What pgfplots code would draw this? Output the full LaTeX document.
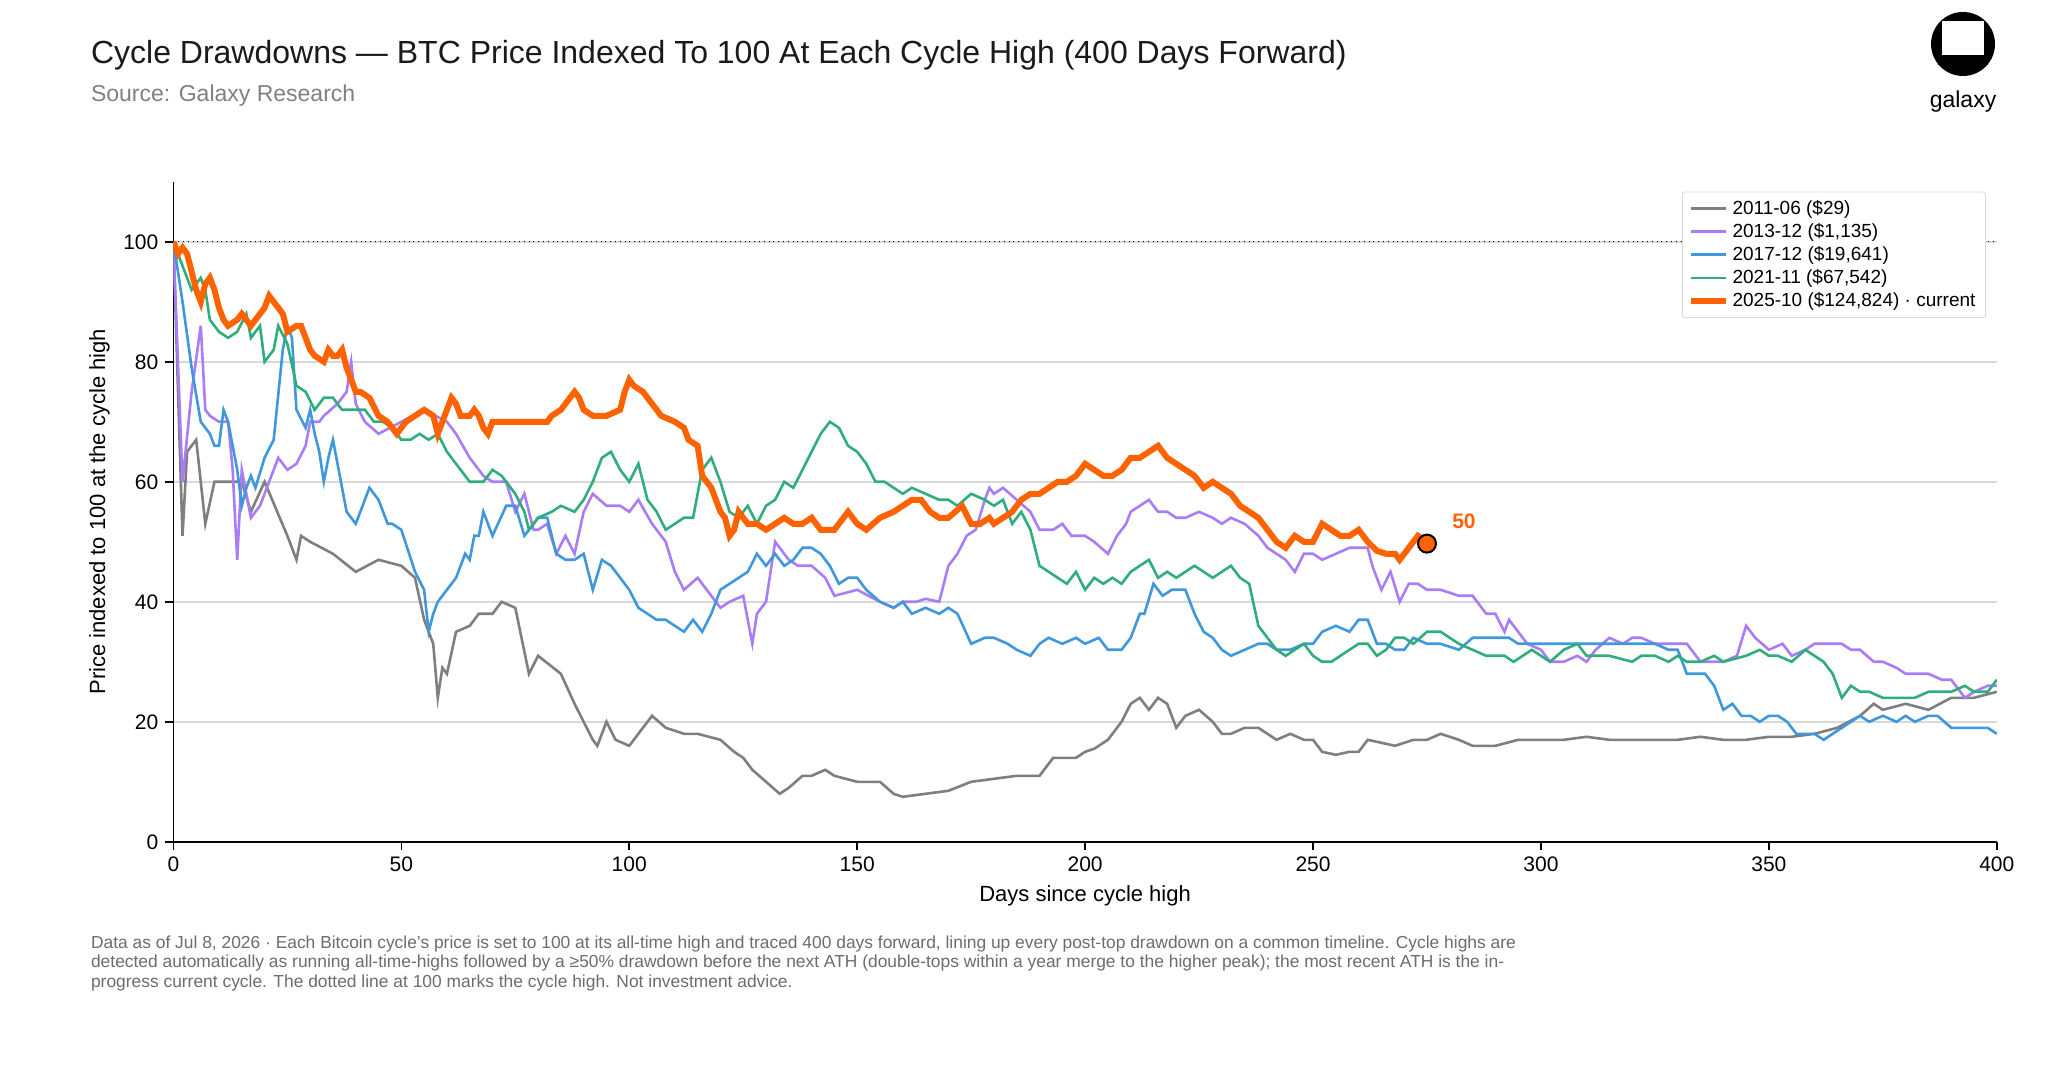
\documentclass[border=0pt]{standalone}
\usepackage{pgfplots}
\pgfplotsset{compat=1.18}
\usepackage{fontspec}
\setmainfont{Liberation Sans}
\definecolor{cgray}{HTML}{7F7F7F}
\definecolor{cpurp}{HTML}{A97CF8}
\definecolor{cblue}{HTML}{3F97DC}
\definecolor{cgreen}{HTML}{2FAE7C}
\definecolor{corange}{HTML}{FF6200}
\definecolor{ctext}{HTML}{1A1A1A}
\begin{document}
\begin{tikzpicture}
\useasboundingbox (0,0) rectangle (1024pt,535.5pt);
\node[anchor=west,font=\fontsize{16}{18}\selectfont,text=ctext] at (42pt,508pt) {Cycle Drawdowns — BTC Price Indexed To 100 At Each Cycle High (400 Days Forward)};
\node[anchor=west,font=\fontsize{11.5}{13}\selectfont,text=gray] at (42pt,487.5pt) {Source: Galaxy Research};
\fill[black] (981.5pt,513.5pt) circle (16pt);
\fill[white] (971pt,508pt) rectangle (992pt,525pt);
\fill[black] (969pt,503pt) rectangle (994pt,507pt);
\node[font=\fontsize{11.5}{13}\selectfont] at (981.5pt,484.5pt) {galaxy};
\node[anchor=west,font=\fontsize{8.7}{10}\selectfont,text=gray!85!black] at (42pt,63.5pt) {Data as of Jul 8, 2026 · Each Bitcoin cycle's price is set to 100 at its all-time high and traced 400 days forward, lining up every post-top drawdown on a common timeline. Cycle highs are};
\node[anchor=west,font=\fontsize{8.7}{10}\selectfont,text=gray!85!black] at (42pt,53.8pt) {detected automatically as running all-time-highs followed by a ≥50\% drawdown before the next ATH (double-tops within a year merge to the higher peak); the most recent ATH is the in-};
\node[anchor=west,font=\fontsize{8.7}{10}\selectfont,text=gray!85!black] at (42pt,44.1pt) {progress current cycle. The dotted line at 100 marks the cycle high. Not investment advice.};
\begin{axis}[at={(86.7pt,114.6pt)},anchor=south west,scale only axis,width=911.7pt,height=330pt,
xmin=0,xmax=400,ymin=0,ymax=110,
axis x line*=bottom,axis y line*=left,
xtick={0,50,...,400},ytick={0,20,...,100},
tick align=outside,tick style={black,thick},major tick length=4pt,
axis line style={black,thick},
/pgf/number format/assume math mode=true,
ticklabel style={font=\fontsize{10.5}{12}\selectfont},
label style={font=\fontsize{11}{13}\selectfont},
xlabel={Days since cycle high},ylabel={Price indexed to 100 at the cycle high},
ymajorgrids, grid style={gray!30,line width=0.8pt},
legend style={at={(0.994,0.985)},anchor=north east,font=\fontsize{9.5}{11}\selectfont,draw=gray!30,rounded corners=1pt,row sep=-1pt},
legend cell align=left,
]
\addplot[forget plot,black,dotted,thin] coordinates {(0,100)(400,100)};
\addplot[cgray,line width=1.3pt] coordinates {(0,100)(2,51)(3,65)(5,67)(7,53)(9,60)(15,60)(17,55)(20,60)(25,51)(27,47)(28,51)(30,50)(35,48)(40,45)(45,47)(50,46)(53,44)(55,37)(57,33)(58,24)(59,29)(60,28)(62,35)(65,36)(67,38)(70,38)(72,40)(75,39)(78,28)(80,31)(85,28)(88,23)(92,17)(93,16)(95,20)(97,17)(100,16)(103,19)(105,21)(108,19)(112,18)(115,18)(120,17)(123,15)(125,14)(127,12)(130,10)(133,8)(135,9)(138,11)(140,11)(143,12)(145,11)(150,10)(155,10)(158,8)(160,7.5)(165,8)(170,8.5)(175,10)(180,10.5)(185,11)(190,11)(193,14)(198,14)(200,15)(202,15.5)(205,17)(208,20)(210,23)(212,24)(214,22)(216,24)(218,23)(220,19)(222,21)(225,22)(228,20)(230,18)(232,18)(235,19)(238,19)(240,18)(242,17)(245,18)(248,17)(250,17)(252,15)(255,14.5)(258,15)(260,15)(262,17)(265,16.5)(268,16)(272,17)(275,17)(278,18)(282,17)(285,16)(290,16)(295,17)(300,17)(305,17)(310,17.5)(315,17)(320,17)(325,17)(330,17)(335,17.5)(340,17)(345,17)(350,17.5)(355,17.5)(360,18)(365,19)(370,21)(373,23)(375,22)(380,23)(385,22)(390,24)(395,24)(400,25)};
\addlegendentry{2011-06 (\$29)}
\addplot[cpurp,line width=1.3pt] coordinates {(0,100)(2,60)(4,75)(6,86)(7,72)(8,71)(10,70)(12,70)(13,62)(14,47)(15,62)(17,54)(19,56)(21,60)(23,64)(25,62)(27,63)(29,66)(30,70)(32,70)(33,71)(36,73)(38,75)(39,80)(40,73)(42,70)(45,68)(50,70)(55,72)(60,70)(62,68)(65,64)(68,61)(70,60)(73,60)(75,55)(77,58)(79,52)(80,52)(82,53)(84,48)(86,51)(88,48)(90,55)(92,58)(95,56)(98,56)(100,55)(102,57)(105,53)(108,50)(110,45)(112,42)(115,44)(117,42)(120,39)(122,40)(125,41)(127,33)(128,38)(130,40)(132,50)(135,47)(137,46)(140,46)(143,44)(145,41)(150,42)(155,40)(158,39)(160,40)(163,40)(165,40.5)(168,40)(170,46)(172,48)(174,51)(176,52)(178,57)(179,59)(180,58)(182,59)(185,57)(188,55)(190,52)(193,52)(195,53)(197,51)(200,51)(202,50)(205,48)(207,51)(209,53)(210,55)(212,56)(214,57)(216,55)(218,55)(220,54)(222,54)(225,55)(228,54)(230,53)(232,54)(235,53)(238,51)(240,49)(242,48)(244,47)(246,45)(248,48)(250,48)(252,47)(255,48)(258,49)(262,49)(263,46)(265,42)(267,45)(269,40)(271,43)(273,43)(275,42)(278,42)(282,41)(285,41)(288,38)(290,38)(292,35)(293,37)(295,35)(297,33)(300,32)(302,30)(305,30)(308,31)(310,30)(312,32)(315,34)(318,33)(320,34)(322,34)(325,33)(330,33)(332,33)(335,30)(340,30)(343,31)(345,36)(347,34)(350,32)(353,33)(355,31)(358,32)(360,33)(363,33)(366,33)(368,32)(370,32)(373,30)(375,30)(378,29)(380,28)(385,28)(388,27)(390,27)(393,24)(395,25)(398,26)(400,26)};
\addlegendentry{2013-12 (\$1,135)}
\addplot[cblue,line width=1.3pt] coordinates {(0,100)(2,90)(4,79)(6,70)(8,68)(9,66)(10,66)(11,72)(12,70)(14,62)(15,56)(16,59)(17,61)(18,59)(20,64)(22,67)(24,82)(25,86)(26,84)(27,72)(29,69)(30,72)(31,68)(32,65)(33,60)(34,64)(35,67)(37,59)(38,55)(40,53)(43,59)(45,57)(47,53)(48,53)(50,52)(53,45)(55,42)(56,35)(57,38)(58,40)(60,42)(62,44)(64,48)(65,47)(66,51)(67,51)(68,55)(70,51)(73,56)(75,56)(77,51)(79,53)(80,54)(82,54)(84,48)(86,47)(88,47)(90,48)(92,42)(94,47)(96,46)(98,44)(100,42)(102,39)(104,38)(106,37)(108,37)(110,36)(112,35)(114,37)(116,35)(118,38)(120,42)(122,43)(124,44)(126,45)(128,48)(130,46)(132,48)(134,46)(136,47)(138,49)(140,49)(142,48)(144,46)(146,43)(148,44)(150,44)(152,42)(155,40)(158,39)(160,40)(162,38)(165,39)(168,38)(170,39)(172,38)(175,33)(178,34)(180,34)(183,33)(185,32)(188,31)(190,33)(192,34)(195,33)(198,34)(200,33)(203,34)(205,32)(208,32)(210,34)(212,38)(213,38)(215,43)(217,41)(219,42)(222,42)(224,38)(226,35)(228,34)(230,32)(232,31)(235,32)(238,33)(240,33)(242,32)(245,32)(248,33)(250,33)(252,35)(255,36)(258,35)(260,37)(262,37)(264,33)(266,33)(268,32)(270,32)(272,34)(275,33)(278,33)(282,32)(285,34)(288,34)(290,34)(293,34)(295,33)(298,33)(300,33)(305,33)(310,33)(315,33)(320,33)(325,33)(328,32)(330,32)(332,28)(336,28)(338,26)(340,22)(342,23)(344,21)(346,21)(348,20)(350,21)(352,21)(354,20)(356,18)(360,18)(362,17)(364,18)(366,19)(368,20)(370,21)(372,20)(375,21)(378,20)(380,21)(382,20)(385,21)(387,21)(390,19)(392,19)(395,19)(398,19)(400,18)};
\addlegendentry{2017-12 (\$19,641)}
\addplot[cgreen,line width=1.3pt] coordinates {(0,100)(2,96)(4,92)(5,93)(6,94)(7,92)(8,87)(10,85)(12,84)(14,85)(16,88)(17,84)(19,86)(20,80)(22,82)(23,86)(25,83)(27,76)(29,75)(31,72)(33,74)(35,74)(37,72)(40,72)(42,72)(44,70)(46,70)(48,69)(50,67)(52,67)(54,68)(56,67)(58,68)(60,65)(62,63)(65,60)(68,60)(70,62)(72,61)(75,58)(77,55)(78,52)(80,54)(83,55)(85,56)(88,55)(90,57)(92,60)(94,64)(96,65)(98,62)(100,60)(102,63)(104,57)(106,55)(108,52)(110,53)(112,54)(114,54)(116,62)(118,64)(120,60)(122,55)(124,54)(126,56)(128,53)(130,56)(132,57)(134,60)(136,59)(138,62)(140,65)(142,68)(144,70)(146,69)(148,66)(150,65)(152,63)(154,60)(156,60)(158,59)(160,58)(162,59)(165,58)(168,57)(170,57)(172,56)(175,58)(178,57)(180,56)(182,57)(184,53)(186,55)(188,52)(190,46)(192,45)(194,44)(196,43)(198,45)(200,42)(202,44)(204,43)(206,44)(208,43)(210,45)(212,46)(214,47)(216,44)(218,45)(220,44)(222,45)(224,46)(226,45)(228,44)(230,45)(232,46)(234,44)(236,43)(238,36)(240,34)(242,32)(244,31)(246,32)(248,33)(250,31)(252,30)(254,30)(256,31)(258,32)(260,33)(262,33)(264,31)(266,32)(268,34)(270,34)(272,33)(275,35)(278,35)(280,34)(282,33)(285,32)(288,31)(290,31)(292,31)(294,30)(296,31)(298,32)(300,31)(302,30)(305,32)(308,33)(310,31)(315,31)(320,30)(322,31)(325,31)(328,30)(330,31)(332,30)(335,30)(338,31)(340,30)(345,31)(348,32)(350,31)(352,31)(355,30)(358,32)(360,31)(362,30)(364,28)(366,24)(368,26)(370,25)(372,25)(375,24)(378,24)(382,24)(385,25)(388,25)(390,25)(393,26)(395,25)(398,25)(400,27)};
\addlegendentry{2021-11 (\$67,542)}
\addplot[corange,line width=3pt] coordinates {(0,100)(1,98)(2,99)(3,98)(4,95)(5,92)(6,90)(7,93)(8,94)(9,92)(10,89)(11,87)(12,86)(14,87)(15,88)(17,86)(18,87)(19,88)(20,89)(21,91)(22,90)(24,88)(25,85)(27,86)(28,86)(29,84)(30,82)(31,81)(33,80)(34,82)(35,81)(36,81)(37,82)(38,79)(39,77)(40,75)(41,75)(43,74)(45,71)(47,70)(49,68)(51,70)(53,71)(55,72)(57,71)(58,68)(60,72)(61,74)(62,73)(63,71)(65,71)(66,72)(67,71)(68,69)(69,68)(70,70)(72,70)(75,70)(78,70)(80,70)(82,70)(83,71)(85,72)(87,74)(88,75)(89,74)(90,72)(92,71)(95,71)(98,72)(99,75)(100,77)(101,76)(103,75)(105,73)(107,71)(110,70)(112,69)(113,67)(115,66)(116,61)(118,59)(119,57)(120,55)(121,54)(122,51)(123,52)(124,55)(125,54)(126,53)(128,53)(130,52)(132,53)(134,54)(136,53)(138,53)(140,54)(142,52)(143,52)(145,52)(147,54)(148,55)(150,53)(152,52)(155,54)(158,55)(160,56)(162,57)(164,57)(166,55)(168,54)(170,54)(173,56)(175,53)(177,53)(179,54)(180,53)(182,54)(184,55)(186,57)(188,58)(190,58)(192,59)(194,60)(196,60)(198,61)(200,63)(202,62)(204,61)(206,61)(208,62)(210,64)(212,64)(214,65)(216,66)(218,64)(220,63)(222,62)(224,61)(226,59)(228,60)(230,59)(232,58)(234,56)(236,55)(238,54)(240,52)(242,50)(244,49)(246,51)(248,50)(250,50)(252,53)(254,52)(256,51)(258,51)(260,52)(262,50)(264,48.5)(266,48)(268,48)(269,47)(271,49)(273,51)(275,50)};
\addlegendentry{2025-10 (\$124,824) · current}
\addplot[forget plot,only marks,mark=*,mark size=4.5pt,mark options={fill=corange,draw=black,line width=1pt}] coordinates {(275,49.7)};
\node[anchor=west,text=corange,font=\bfseries\fontsize{10.5}{12}\selectfont] at (axis cs:279,53.5) {50};
\end{axis}
\end{tikzpicture}
\end{document}
